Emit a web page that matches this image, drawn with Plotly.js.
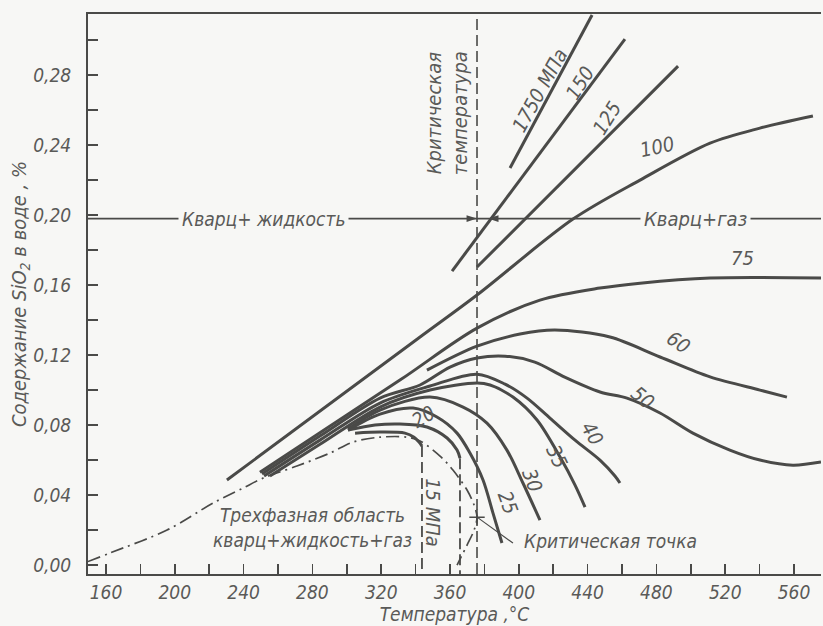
<!DOCTYPE html>
<html><head><meta charset="utf-8">
<script src="https://cdn.plot.ly/plotly-3.0.1.min.js"></script>
<style>html,body{margin:0;padding:0;background:#f7f7f5;}#chart{width:823px;height:626px;}</style>
</head><body><div id="chart"></div>
<script>
// ---- data (temperature °C, SiO2 content %) ----
const tTri  = [149.5,162.3,195.5,222.2,239.7,251.3,271.0,290.2,303.6,319.3,335.0,342.6,354.2,361.7,369.9,374.0,375.7,374.0,369.9,364.1];
const vTri  = [0.002,0.0069,0.020,0.0354,0.044,0.0497,0.0566,0.064,0.0703,0.0731,0.0731,0.0709,0.0623,0.0543,0.0429,0.0343,0.0274,0.020,0.0114,0.0];

const t1750 = [394.9,442.6];
const v1750 = [0.2269,0.3143];
const t150  = [361.2,461.7];
const v150  = [0.168,0.3006];
const t125  = [375.7,492.6];
const v125  = [0.1703,0.2851];
const t100  = [230.3,342.6,375.7,431.5,470.5,511.2,540.2,571.0];
const v100  = [0.0486,0.1303,0.1543,0.1977,0.2200,0.2411,0.2497,0.2566];
const t75   = [249.5,330.9,375.7,412.3,447.2,470.5,511.2,575.7];
const v75   = [0.0531,0.1057,0.1354,0.1514,0.1583,0.1611,0.1640,0.1640];
const t60   = [346.6,375.7,400.7,421.0,453.0,482.1,511.2,540.2,555.9];
const v60   = [0.1114,0.1251,0.1320,0.1343,0.1303,0.1189,0.1075,0.1000,0.0960];
const t50   = [250.7,284.4,319.3,342.6,360.0,375.7,392.0,409.3,426.7,447.2,462.9,482.1,501.2,522.7,540.2,559.4,575.7];
const v50   = [0.0520,0.0737,0.0954,0.1029,0.1131,0.1183,0.1194,0.1160,0.1074,0.0989,0.0954,0.0869,0.0754,0.0657,0.0600,0.0571,0.0589];
const t40   = [251.9,284.4,319.3,348.4,375.7,392.0,404.8,418.1,432.7,447.2,455.9,458.8];
const v40   = [0.0509,0.0714,0.0926,0.1023,0.1091,0.1034,0.0954,0.0840,0.0714,0.0600,0.0509,0.0469];
const t35   = [255.3,284.4,319.3,348.4,375.7,383.3,396.6,410.6,424.0,432.7,438.5];
const v35   = [0.0509,0.0690,0.0903,0.1000,0.1040,0.1029,0.0960,0.0829,0.0617,0.0457,0.0331];
const t30   = [300.7,319.3,348.4,367.6,381.5,393.1,402.4,412.3];
const v30   = [0.0777,0.0886,0.0960,0.0903,0.0811,0.0657,0.0469,0.0257];
const t25   = [300.7,319.3,338.5,352.4,364.1,371.6,379.2,385.0,390.2];
const v25   = [0.0771,0.0863,0.0897,0.0846,0.0754,0.0640,0.0486,0.0297,0.0126];
const t20   = [300.7,316.4,330.9,346.6,358.3,364.1,365.8];
const v20   = [0.0771,0.0800,0.0806,0.0789,0.0726,0.0657,0.0611];
const t15   = [304.8,319.3,333.8,339.1,342.0,343.7];
const v15   = [0.0754,0.0760,0.0754,0.0731,0.0703,0.0680];

const tCrit = 375.7;            // critical temperature line
const critPoint = [375.7, 0.0274];
const vBoundary = 0.198;        // quartz+liquid / quartz+gas boundary line
const tGasArrow = 382.1;        // tip of the left-pointing arrow

const xTicks = [160,200,240,280,320,360,400,440,480,520,560];
const yTicks = [0.00,0.04,0.08,0.12,0.16,0.20,0.24,0.28];
const pressureLabels = ['1750 МПа','150','125','100','75','60','50','40','35','30','25','20','15 МПа'];

// ---- drawing ----
const FONT = "'DejaVu Sans Condensed','Liberation Sans',sans-serif";
const INK = '#4a4a48';
const TXT = '#5a5a58';
const BG = '#f7f7f5';
const X0 = 149.53, X1 = 575.7, Y0 = -0.0051, Y1 = 0.3149;

function curve(x, y, extra) {
  return Object.assign({x:x, y:y, mode:'lines', hoverinfo:'skip', showlegend:false,
    line:{color:INK, width:3.0, shape:'spline', smoothing:0.9}}, extra||{});
}
const traces = [
  curve(tTri, vTri, {line:{color:INK, width:1.7, dash:'13px,5px,2px,5px', shape:'spline', smoothing:0.9}}),
  curve(t1750, v1750), curve(t150, v150), curve(t125, v125), curve(t100, v100),
  curve(t75, v75), curve(t60, v60), curve(t50, v50), curve(t40, v40), curve(t35, v35),
  curve(t30, v30), curve(t25, v25), curve(t20, v20), curve(t15, v15),
  // vertical dashed drops of the 15 and 20 MPa isobars (from curve ends down to the axis)
  curve([t15[t15.length-1], t15[t15.length-1]], [v15[v15.length-1], Y0], {line:{color:INK, width:1.8, dash:'11px,5px'}}),
  curve([t20[t20.length-1], t20[t20.length-1]], [v20[v20.length-1], Y0], {line:{color:INK, width:1.8, dash:'11px,5px'}}),
  // critical point cross
  {x:[critPoint[0]], y:[critPoint[1]], mode:'markers', hoverinfo:'skip', showlegend:false,
   marker:{symbol:'cross-thin', size:11, line:{color:INK, width:1.5}}},
  // arrowheads on the boundary line
  {x:[tCrit, tGasArrow], y:[vBoundary, vBoundary], mode:'markers', hoverinfo:'skip', showlegend:false,
   marker:{symbol:'arrow', size:11, angle:[90,-90], color:INK, line:{width:0}}}
];

const tf = {family:FONT, size:20, color:TXT, style:'italic'};
function lab(text, x, y, angle, size, extra) {
  return Object.assign({text:text, x:x, y:y, xref:'x', yref:'y', showarrow:false,
    textangle:angle||0, font:Object.assign({}, tf, {size:size||20})}, extra||{});
}
const annotations = [
  lab(pressureLabels[0], 412.3, 0.2714, -61, 20),
  lab(pressureLabels[1], 435.6, 0.2754, -58, 20),
  lab(pressureLabels[2], 451.3, 0.2554, -58, 20),
  lab(pressureLabels[3], 480.3, 0.2389, -12, 20),
  lab(pressureLabels[4], 529.8, 0.1754, 0, 20),
  lab(pressureLabels[5], 492.6, 0.1274, 35, 20),
  lab(pressureLabels[6], 472.2, 0.0954, 40, 20),
  lab(pressureLabels[7], 442.6, 0.0754, 60, 20),
  lab(pressureLabels[8], 422.2, 0.0617, 65, 20),
  lab(pressureLabels[9], 407.7, 0.0486, 70, 20),
  lab(pressureLabels[10], 393.7, 0.0354, 70, 20),
  lab(pressureLabels[11], 344.3, 0.0846, -30, 20),
  lab(pressureLabels[12], 350.1, 0.0297, 90, 20),
  lab('Критическая<br>температура', 358.3, 0.2583, -90, 20),
  lab('Трехфазная область<br>кварц+жидкость+газ', 280.3, 0.0217, 0, 19),
  lab('Критическая точка', 453.5, 0.0137, 0, 19),
  lab('Кварц+ жидкость', 251.3, vBoundary, 0, 19, {bgcolor:BG, borderpad:3}),
  lab('Кварц+газ', 503.0, vBoundary, 0, 20, {bgcolor:BG, borderpad:3})
];

const shapes = [
  {type:'line', xref:'x', yref:'paper', x0:tCrit, x1:tCrit, y0:0, y1:1, line:{color:INK, width:1.6, dash:'11px,5px'}},
  {type:'line', xref:'x', yref:'y', x0:X0, x1:X1, y0:vBoundary, y1:vBoundary, line:{color:INK, width:1.6}},
  // leader line to the critical point
  {type:'line', xref:'x', yref:'y', x0:critPoint[0], y0:critPoint[1], x1:396.6, y1:0.0126, line:{color:INK, width:1.2}}
];

const layout = {
  width:823, height:626,
  margin:{l:88, r:2, t:14, b:52},
  paper_bgcolor:BG, plot_bgcolor:BG,
  separators:', ',
  showlegend:false,
  xaxis:{range:[X0,X1], showgrid:false, zeroline:false, showline:true, linecolor:INK, linewidth:2, mirror:true,
    tickmode:'array', tickvals:xTicks, ticks:'inside', ticklen:10, tickwidth:1.5, tickcolor:INK,
    minor:{dtick:20, tick0:160, ticks:'inside', ticklen:10, tickwidth:1.5, tickcolor:INK},
    tickfont:Object.assign({}, tf, {size:19}), ticklabelstandoff:0,
    title:{text:'Температура ,°C', font:Object.assign({}, tf, {size:19}), standoff:0}},
  yaxis:{range:[Y0,Y1], showgrid:false, zeroline:false, showline:true, linecolor:INK, linewidth:2,
    tickmode:'array', tickvals:yTicks, tickformat:'.2f', ticks:'inside', ticklen:10, tickwidth:1.5, tickcolor:INK,
    minor:{dtick:0.02, tick0:0, ticks:'inside', ticklen:10, tickwidth:1.5, tickcolor:INK},
    tickfont:Object.assign({}, tf, {size:19}), ticklabelstandoff:11,
    title:{text:'Содержание SiO<sub>2</sub> в воде , %', font:Object.assign({}, tf, {size:20}), standoff:0}},
  annotations:annotations,
  shapes:shapes
};
Plotly.newPlot('chart', traces, layout, {displayModeBar:false, staticPlot:true});
</script>
</body></html>
